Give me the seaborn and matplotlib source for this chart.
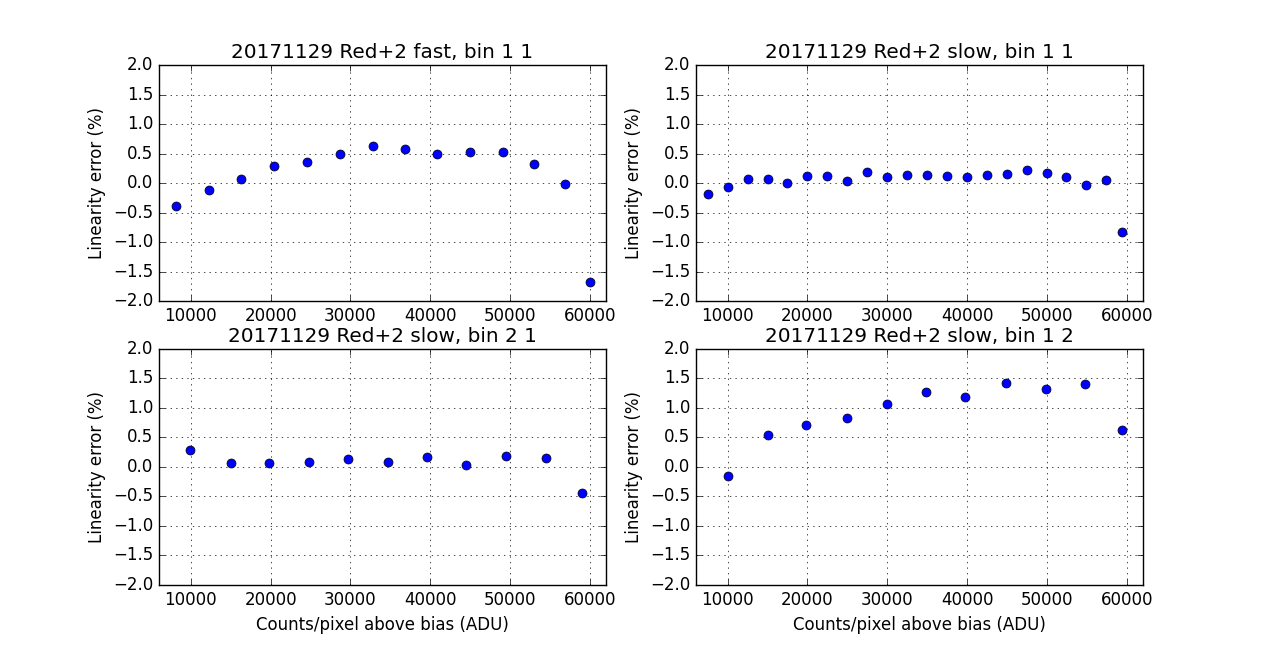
import numpy as np
import matplotlib
matplotlib.use("Agg")
import matplotlib.pyplot as plt
import seaborn as sns

plt.style.use("classic")

# ===================================
# Data
# ===================================

fast11_x = [8100, 12300, 16300, 20450, 24600, 28700, 32850, 36850, 40850, 45000, 49150, 53000, 56900, 60000]
fast11_y = [-0.38, -0.11, 0.07, 0.29, 0.36, 0.50, 0.63, 0.58, 0.50, 0.53, 0.53, 0.33, -0.02, -1.68]

slow11_x = [7500, 10000, 12500, 15000, 17500, 20000, 22500, 25000, 27500, 30000, 32500,
            35000, 37500, 40000, 42500, 45000, 47500, 50000, 52400, 54900, 57400, 59400]
slow11_y = [-0.18, -0.07, 0.07, 0.07, 0.01, 0.12, 0.12, 0.04, 0.19, 0.11, 0.14,
            0.14, 0.12, 0.11, 0.14, 0.16, 0.23, 0.17, 0.11, -0.03, 0.06, -0.82]

slow21_x = [9900, 15000, 19800, 24800, 29700, 34700, 39600, 44500, 49500, 54500, 59000]
slow21_y = [0.28, 0.07, 0.07, 0.08, 0.13, 0.08, 0.17, 0.03, 0.18, 0.15, -0.44]

slow12_x = [10000, 15000, 19850, 24900, 29900, 34900, 39750, 44900, 49800, 54800, 59350]
slow12_y = [-0.15, 0.54, 0.71, 0.83, 1.07, 1.27, 1.19, 1.42, 1.32, 1.41, 0.63]

titles = [
    "20171129 Red+2 fast, bin 1 1",
    "20171129 Red+2 slow, bin 1 1",
    "20171129 Red+2 slow, bin 2 1",
    "20171129 Red+2 slow, bin 1 2",
]

panels = [
    (fast11_x, fast11_y),
    (slow11_x, slow11_y),
    (slow21_x, slow21_y),
    (slow12_x, slow12_y),
]

# ===================================
# Layout
# ===================================

fig, axes = plt.subplots(2, 2, figsize=(12.7, 6.5), dpi=100)
fig.patch.set_facecolor("white")
fig.subplots_adjust(left=0.125, right=0.9, bottom=0.1, top=0.9, wspace=0.2, hspace=0.2)

for i, (ax, (xs, ys), title) in enumerate(zip(axes.flat, panels, titles)):
    sns.scatterplot(
        x=xs,
        y=ys,
        ax=ax,
        color="blue",
        s=42,
        edgecolor="black",
        linewidth=0.5,
        zorder=3
    )
    ax.set_xlim(6000, 62000)
    ax.set_ylim(-2.0, 2.0)
    ax.set_xticks([10000, 20000, 30000, 40000, 50000, 60000])
    ax.set_yticks(np.arange(-2.0, 2.01, 0.5))
    ax.grid(True, linestyle=":", color="black", linewidth=0.5)
    ax.set_axisbelow(False)
    ax.set_title(title, fontsize=14.4)
    ax.set_ylabel("Linearity error (%)", fontsize=12)
    if i >= 2:
        ax.set_xlabel("Counts/pixel above bias (ADU)", fontsize=12)
    else:
        ax.set_xlabel("")
    ax.tick_params(labelsize=12)

fig.savefig("out.png", dpi=100, facecolor="white")
